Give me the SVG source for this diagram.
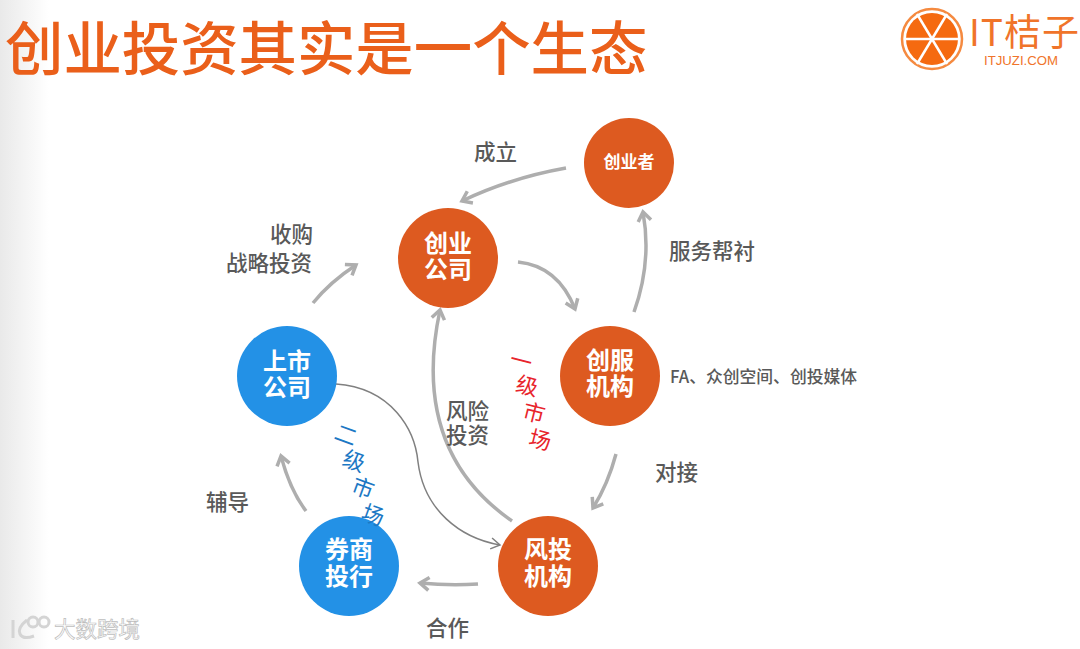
<svg xmlns="http://www.w3.org/2000/svg" width="1080" height="649" viewBox="0 0 1080 649">
<defs>
<linearGradient id="bg" x1="0" x2="1" y1="0" y2="0"><stop offset="0" stop-color="#e9e9e9"/><stop offset="0.045" stop-color="#ffffff"/></linearGradient>
<marker id="ah" markerUnits="userSpaceOnUse" markerWidth="20" markerHeight="20" refX="13" refY="10" orient="auto"><path d="M4,3.5 L13,10 L4,16.5" fill="none" stroke="#aeaeae" stroke-width="3.5"/></marker>
<marker id="ahthin" markerUnits="userSpaceOnUse" markerWidth="16" markerHeight="16" refX="13" refY="8" orient="auto"><path d="M4,2.5 L13,8 L4,13.5" fill="none" stroke="#808080" stroke-width="1.5"/></marker>
</defs>
<style>
text{font-family:"Noto Sans CJK SC","Liberation Sans",sans-serif}
.n{fill:#fff;font-weight:700;font-size:24px;text-anchor:middle}
.l{fill:#595959;font-size:21.5px;font-weight:500}
.a{fill:none;stroke:#aeaeae;stroke-width:3.5;marker-end:url(#ah)}
.o{fill:#dd5a20}.b{fill:#2391e6}
.r{fill:#e8242c;font-size:22px;text-anchor:middle}
.bl{fill:#1c78c4;font-size:22px;text-anchor:middle}
</style>
<rect width="1080" height="649" fill="url(#bg)"/>
<text x="5" y="70" font-size="58.4" font-weight="500" fill="#ea5f1a">创业投资其实是一个生态</text>
<g id="logo">
<circle cx="932" cy="39" r="30" fill="none" stroke="#f58a40" stroke-width="2.5"/>
<circle cx="932" cy="39" r="26" fill="#f56a10"/>
<g stroke="#fff" stroke-width="2.5"><path d="M932,39 L917,14"/><path d="M932,39 L947,14"/><path d="M932,39 L905,39"/><path d="M932,39 L959,39"/><path d="M932,39 L917,64"/><path d="M932,39 L947,64"/></g>
<text x="969" y="46" font-size="37" fill="#f0742a" font-weight="400" style="letter-spacing:1px">IT桔子</text>
<text x="984" y="65" font-size="13.2" fill="#f0742a" style="font-family:'Liberation Sans',sans-serif">ITJUZI.COM</text>
</g>
<g id="connectors">
<path class="a" d="M566,168 Q510,178 462,201"/>
<path class="a" d="M634,312 Q652,262 643,212"/>
<path class="a" d="M518,262 Q558,266 575,309"/>
<path class="a" d="M616,454 Q608,484 593,508"/>
<path class="a" d="M512,521 Q410,450 440,310"/>
<path class="a" d="M478,584 Q450,586 420,583"/>
<path class="a" d="M306,511 Q290,490 281,456"/>
<path class="a" d="M313,303 Q330,282 356,265"/>
<path d="M336,384 C392,388 415,430 418,462 C424,510 460,538 500,545" fill="none" stroke="#808080" stroke-width="1.5" marker-end="url(#ahthin)"/>
</g>
<g id="n1"><circle class="o" cx="629" cy="163" r="45"/><text class="n" x="629" y="168" style="font-size:17px">创业者</text></g>
<g id="n2"><circle class="o" cx="448" cy="258" r="50"/><text class="n" x="448" y="252">创业</text><text class="n" x="448" y="278">公司</text></g>
<g id="n3"><circle class="o" cx="610" cy="376" r="50"/><text class="n" x="610" y="369">创服</text><text class="n" x="610" y="395">机构</text></g>
<g id="n4"><circle class="b" cx="287" cy="376" r="50"/><text class="n" x="287" y="370">上市</text><text class="n" x="287" y="396">公司</text></g>
<g id="n5"><circle class="b" cx="349" cy="566" r="50"/><text class="n" x="349" y="558">券商</text><text class="n" x="349" y="585">投行</text></g>
<g id="n6"><circle class="o" cx="548" cy="566" r="50"/><text class="n" x="548" y="558">风投</text><text class="n" x="548" y="585">机构</text></g>
<text class="l" x="474" y="160">成立</text>
<text class="l" x="669" y="259">服务帮衬</text>
<text class="l" x="270" y="242">收购</text>
<text class="l" x="226" y="271">战略投资</text>
<text class="l" x="446" y="419">风险</text>
<text class="l" x="446" y="443">投资</text>
<text class="l" x="655" y="480">对接</text>
<text class="l" x="206" y="510">辅导</text>
<text class="l" x="426" y="636">合作</text>
<text x="670" y="383" font-size="16.8" fill="#595959" font-weight="500">FA、众创空间、创投媒体</text>
<text class="r" transform="translate(521,361) rotate(14)" y="8">一</text>
<text class="r" transform="translate(527,386) rotate(14)" y="8">级</text>
<text class="r" transform="translate(534,413) rotate(14)" y="8">市</text>
<text class="r" transform="translate(540,440) rotate(14)" y="8">场</text>
<text class="bl" transform="translate(346,435) rotate(20)" y="8">二</text>
<text class="bl" transform="translate(354,461) rotate(20)" y="8">级</text>
<text class="bl" transform="translate(363,488) rotate(20)" y="8">市</text>
<text class="bl" transform="translate(373,515) rotate(20)" y="8">场</text>
<g id="watermark" fill="none" stroke-width="3">
<path d="M13,620 L13,638 M27,620 Q17,628 20,634 Q23,640 34,636" stroke="#d4d4d4"/><circle cx="33" cy="622" r="5" stroke="#d4d4d4"/><circle cx="44" cy="622" r="5" stroke="#d4d4d4"/>
</g>
<text x="54" y="637" font-size="21.5" fill="#fff" stroke="#bdbdbd" stroke-width="0.7">大数跨境</text>
</svg>
